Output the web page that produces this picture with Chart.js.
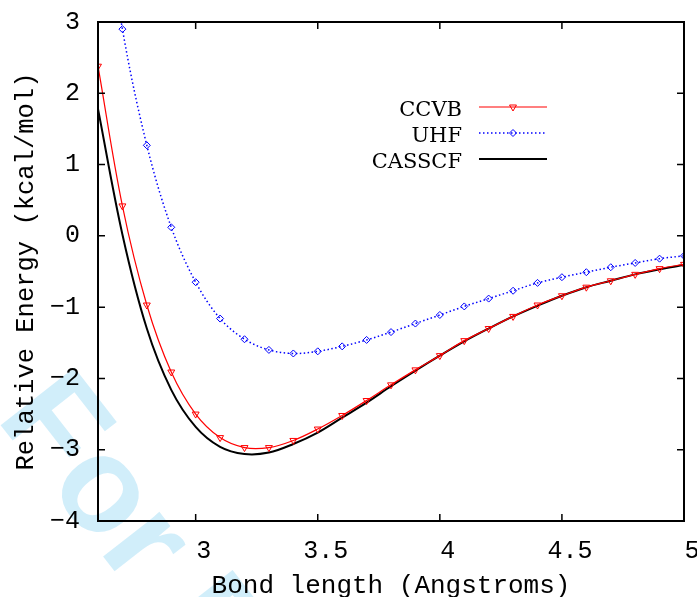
<!DOCTYPE html>
<html>
<head>
<meta charset="utf-8">
<script src="https://cdn.jsdelivr.net/npm/chart.js@4.4.1/dist/chart.umd.min.js"></script>
<style>
  html, body { margin: 0; padding: 0; background: #fff; }
</style>
</head>
<body>
<canvas id="energy-chart" width="697" height="597"></canvas>
<script>
// bond length (Angstroms)
var bondLength = [2.6, 2.7, 2.8, 2.9, 3.0, 3.1, 3.2, 3.3, 3.4, 3.5, 3.6, 3.7, 3.8,
                  3.9, 4.0, 4.1, 4.2, 4.3, 4.4, 4.5, 4.6, 4.7, 4.8, 4.9, 5.0];
// relative energy (kcal/mol)
var ccvb = [2.38, 0.42, -0.97, -1.91, -2.50, -2.83, -2.97, -2.97, -2.87, -2.71, -2.52, -2.31, -2.09,
            -1.88, -1.68, -1.47, -1.30, -1.13, -0.97, -0.84, -0.72, -0.63, -0.54, -0.46, -0.40];
var uhf = [5.2, 2.90, 1.27, 0.12, -0.65, -1.16, -1.45, -1.60, -1.65, -1.62, -1.55, -1.46, -1.35,
           -1.23, -1.11, -0.99, -0.88, -0.77, -0.66, -0.58, -0.51, -0.44, -0.38, -0.32, -0.28];
var casscf = [1.78, 0.02, -1.30, -2.16, -2.68, -2.96, -3.06, -3.04, -2.92, -2.76, -2.55, -2.34, -2.11,
              -1.89, -1.68, -1.48, -1.30, -1.13, -0.98, -0.84, -0.72, -0.63, -0.54, -0.47, -0.41];

var xTicks = [3, 3.5, 4, 4.5, 5];
var yTicks = [-4, -3, -2, -1, 0, 1, 2, 3];

var monoFont = '"Liberation Mono", "DejaVu Sans Mono", monospace';

function points(ys) {
    return bondLength.map(function(x, i) { return {x: x, y: ys[i]}; });
}

// white page + light "For Peer Review" stamp under everything
var background = {
    id: 'background',
    beforeDraw: function(chart) {
        var ctx = chart.ctx;
        ctx.save();
        ctx.fillStyle = '#fff';
        ctx.fillRect(0, 0, chart.width, chart.height);
        ctx.translate(-5, 418);
        ctx.rotate(52 * Math.PI / 180);
        ctx.font = 'bold 136px "Liberation Sans", Arial, sans-serif';
        ctx.textAlign = 'left';
        ctx.textBaseline = 'alphabetic';
        ctx.fillStyle = 'rgba(0, 160, 230, 0.18)';
        ctx.fillText('For Peer Review', 0, 0);
        ctx.restore();
    }
};

// gnuplot style box with inward ticks on all four sides
var frame = {
    id: 'frame',
    afterDatasetsDraw: function(chart) {
        var ctx = chart.ctx, a = chart.chartArea;
        var xs = chart.scales.x, ys = chart.scales.y;
        var len = 7;
        ctx.save();
        ctx.strokeStyle = '#000';
        ctx.lineWidth = 1.5;
        ctx.beginPath();
        xTicks.forEach(function(v) {
            var px = xs.getPixelForValue(v);
            ctx.moveTo(px, a.bottom); ctx.lineTo(px, a.bottom - len);
            ctx.moveTo(px, a.top); ctx.lineTo(px, a.top + len);
        });
        yTicks.forEach(function(v) {
            var py = ys.getPixelForValue(v);
            ctx.moveTo(a.left, py); ctx.lineTo(a.left + len, py);
            ctx.moveTo(a.right, py); ctx.lineTo(a.right - len, py);
        });
        ctx.stroke();
        ctx.lineWidth = 2;
        ctx.strokeRect(a.left, a.top, a.right - a.left, a.bottom - a.top);
        ctx.restore();
    }
};

// key inside the plot: text right aligned, line sample to the right
var key = {
    id: 'key',
    afterDraw: function(chart) {
        var ctx = chart.ctx;
        var textRight = 462, x0 = 479, x1 = 547, rowY = [107, 133, 159];
        ctx.save();
        ctx.font = '21px "DejaVu Serif", serif';
        ctx.textAlign = 'right';
        ctx.textBaseline = 'alphabetic';
        chart.data.datasets.forEach(function(ds, i) {
            var y = rowY[i];
            ctx.fillStyle = '#000';
            ctx.fillText(ds.label, textRight, y + 8.5);
            ctx.strokeStyle = ds.borderColor;
            ctx.lineWidth = ds.borderWidth;
            ctx.setLineDash(ds.borderDash || []);
            ctx.beginPath();
            ctx.moveTo(x0, y); ctx.lineTo(x1, y);
            ctx.stroke();
            ctx.setLineDash([]);
            if (ds.pointRadius > 0) {
                ctx.strokeStyle = ds.pointBorderColor;
                ctx.fillStyle = ds.pointBackgroundColor;
                ctx.lineWidth = ds.pointBorderWidth;
                Chart.helpers.drawPoint(ctx, {
                    pointStyle: ds.pointStyle,
                    rotation: ds.pointRotation || 0,
                    radius: ds.pointRadius,
                    borderWidth: ds.pointBorderWidth
                }, (x0 + x1) / 2, y);
            }
        });
        ctx.restore();
    }
};

new Chart(document.getElementById('energy-chart'), {
    type: 'line',
    data: {
        datasets: [{
            label: 'CCVB',
            data: points(ccvb),
            borderColor: '#ff0000',
            borderWidth: 1.2,
            pointStyle: 'triangle',
            pointRotation: 180,
            pointRadius: 4,
            pointBorderWidth: 1,
            pointBorderColor: '#ff0000',
            pointBackgroundColor: 'rgba(255,255,255,0)',
            tension: 0.35,
            fill: false
        }, {
            label: 'UHF',
            data: points(uhf),
            borderColor: '#0000ff',
            borderWidth: 1.5,
            borderDash: [1.5, 2.5],
            pointStyle: 'rectRot',
            pointRadius: 3.5,
            pointBorderWidth: 1,
            pointBorderColor: '#0000ff',
            pointBackgroundColor: 'rgba(255,255,255,0)',
            tension: 0.35,
            fill: false
        }, {
            label: 'CASSCF',
            data: points(casscf),
            borderColor: '#000000',
            borderWidth: 2,
            pointRadius: 0,
            tension: 0.35,
            fill: false
        }]
    },
    options: {
        responsive: false,
        animation: false,
        layout: { padding: { left: 0, right: 13, top: 22, bottom: 0 } },
        plugins: {
            legend: { display: false },
            tooltip: { enabled: false }
        },
        scales: {
            x: {
                type: 'linear',
                min: 2.6,
                max: 5,
                afterBuildTicks: function(s) { s.ticks = xTicks.map(function(v) { return {value: v}; }); },
                afterFit: function(s) { s.height = 76; s.paddingLeft = 0; s.paddingRight = 0; },
                grid: { display: false, drawTicks: false },
                border: { display: false },
                ticks: {
                    color: '#000',
                    font: { family: monoFont, size: 25 },
                    padding: 15,
                    labelOffset: 8,
                    maxRotation: 0,
                    autoSkip: false,
                    callback: function(v) { return String(v); }
                },
                title: {
                    display: true,
                    text: 'Bond length (Angstroms)',
                    color: '#000',
                    font: { family: monoFont, size: 26, lineHeight: 0.8 },
                    padding: 0
                }
            },
            y: {
                min: -4,
                max: 3,
                afterBuildTicks: function(s) { s.ticks = yTicks.map(function(v) { return {value: v}; }); },
                afterFit: function(s) { s.width = 98; s.paddingTop = 0; s.paddingBottom = 0; },
                grid: { display: false, drawTicks: false },
                border: { display: false },
                ticks: {
                    color: '#000',
                    font: { family: monoFont, size: 25 },
                    padding: 18,
                    autoSkip: false,
                    callback: function(v) { return String(v).replace('-', '\u2212'); }
                },
                title: {
                    display: true,
                    text: 'Relative Energy (kcal/mol)',
                    color: '#000',
                    font: { family: monoFont, size: 25.5 },
                    padding: { top: 11, bottom: 0 }
                }
            }
        }
    },
    plugins: [background, frame, key]
});
</script>
</body>
</html>
